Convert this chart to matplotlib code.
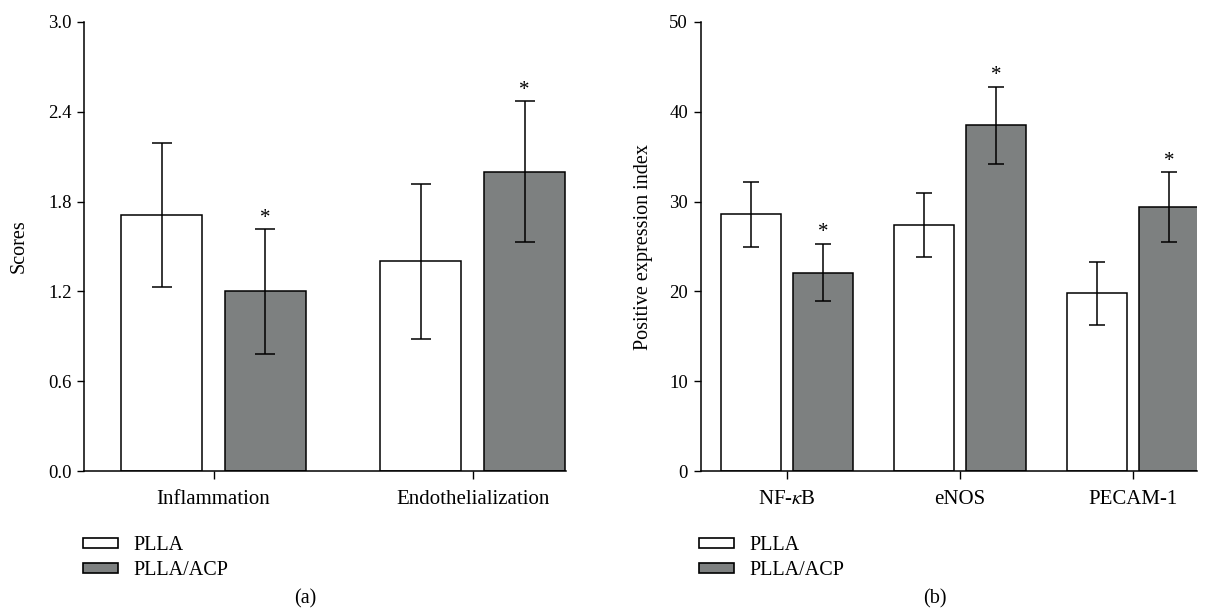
import matplotlib
matplotlib.use("Agg")
import matplotlib.pyplot as plt
import numpy as np
from matplotlib.patches import Patch

plt.rcParams['font.family'] = ['Liberation Serif', 'DejaVu Serif']
plt.rcParams['mathtext.fontset'] = 'stix'

# panel (a)
cats_a = ["Inflammation", "Endothelialization"]
plla_a = [1.71, 1.40]
plla_a_err = [0.48, 0.52]
acp_a = [1.20, 2.00]
acp_a_err = [0.415, 0.47]

# panel (b)
cats_b = ["NF-$\\kappa$B", "eNOS", "PECAM-1"]
plla_b = [28.6, 27.4, 19.8]
plla_b_err = [3.6, 3.6, 3.5]
acp_b = [22.1, 38.5, 29.4]
acp_b_err = [3.2, 4.3, 3.85]

series_names = ["PLLA", "PLLA/ACP"]
gray = '#7d8080'

W, H = 1211, 613
fig = plt.figure(figsize=(W / 100, H / 100), dpi=100)
ax_a = fig.add_axes([84 / W, 1 - 471 / H, (566 - 84) / W, 449 / H])
ax_b = fig.add_axes([700.5 / W, 1 - 471 / H, (1197 - 700.5) / W, 449 / H])


def draw_panel(ax, cats, v1, e1, v2, e2, width, off, capsize, ylim, yticks, fmt, xlim):
    x = np.arange(1, len(cats) + 1)
    ax.bar(x - off, v1, width, color='white', edgecolor='black', linewidth=1.1, zorder=2)
    ax.bar(x + off, v2, width, color=gray, edgecolor='black', linewidth=1.1, zorder=2)
    ax.errorbar(x - off, v1, yerr=e1, fmt='none', ecolor='black', elinewidth=1.1,
                capsize=capsize, capthick=1.1, zorder=3)
    ax.errorbar(x + off, v2, yerr=e2, fmt='none', ecolor='black', elinewidth=1.1,
                capsize=capsize, capthick=1.1, zorder=3)
    for xi, v, e in zip(x + off, v2, e2):
        ax.annotate('*', (xi, v + e), xytext=(0, 1), textcoords='offset points',
                    ha='center', va='bottom', fontsize=15)
    ax.set_xlim(*xlim)
    ax.set_ylim(*ylim)
    ax.set_yticks(yticks)
    ax.set_yticklabels([fmt.format(t) for t in yticks], fontsize=13.5)
    ax.set_xticks(x)
    ax.set_xticklabels(cats, fontsize=15)
    for s in ['top', 'right']:
        ax.spines[s].set_visible(False)
    for s in ['left', 'bottom']:
        ax.spines[s].set_linewidth(1.1)
    ax.tick_params(axis='y', length=5, width=1.0, pad=4)
    ax.tick_params(axis='x', length=6, width=1.0, pad=8)


draw_panel(ax_a, cats_a, plla_a, plla_a_err, acp_a, acp_a_err,
           0.312, 0.2, 7.5, (0, 3.0), [0.0, 0.6, 1.2, 1.8, 2.4, 3.0], '{:.1f}', (0.5, 2.36))
draw_panel(ax_b, cats_b, plla_b, plla_b_err, acp_b, acp_b_err,
           0.347, 0.207, 5.5, (0, 50), [0, 10, 20, 30, 40, 50], '{:d}', (0.5, 3.37))

ax_a.set_ylabel("Scores", fontsize=14.5, labelpad=14)
ax_b.set_ylabel("Positive expression index", fontsize=14.5, labelpad=12)

handles = [Patch(facecolor='white', edgecolor='black', linewidth=1.2),
           Patch(facecolor=gray, edgecolor='black', linewidth=1.2)]
for xa in [83, 699]:
    fig.legend(handles, series_names, loc='upper left', bbox_to_anchor=(xa / W, 1 - 536 / H),
               frameon=False, fontsize=14.5, borderpad=0, borderaxespad=0,
               handlelength=1.75, handleheight=0.35, handletextpad=0.75, labelspacing=0.3)

fig.text(305 / W, 1 - 599 / H, "(a)", ha='center', va='center', fontsize=14.5)
fig.text(935 / W, 1 - 599 / H, "(b)", ha='center', va='center', fontsize=14.5)

fig.savefig("out.png", dpi=100)
